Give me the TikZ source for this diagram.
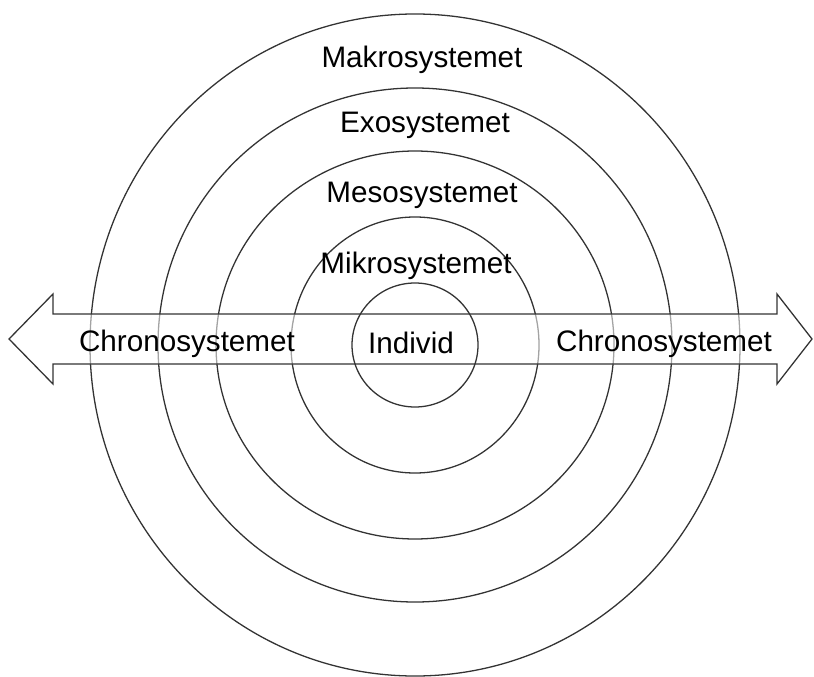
\documentclass[tikz,border=0pt]{standalone}
\usepackage{fontspec}
\setmainfont{Liberation Sans}
\usetikzlibrary{positioning}
\tikzset{
  ring/.style={line width=1.1pt, draw=black!80},
  lvl/.style={anchor=base, font=\fontsize{25.3}{30}\selectfont, inner sep=0pt},
}

\begin{document}
\begin{tikzpicture}[x=0.03cm, y=-0.03cm]
\useasboundingbox (0,0) rectangle (814,677);
% ---------- rings of the system, outer to inner ----------
\coordinate (mid) at (415,345);
\draw[ring] (mid) ellipse [x radius=325, y radius=331];
\draw[ring] (mid) ellipse [x radius=257, y radius=257];
\draw[ring] (mid) ellipse [x radius=199, y radius=194];
\draw[ring] (mid) ellipse [x radius=124, y radius=128];
% ---------- double arrow across the rings ----------
\draw[line width=1.1pt, draw=black!80, fill=white, fill opacity=0.55]
  (9,339) -- (53,294) -- (53,314) -- (777,314) -- (777,294) -- (812,339)
  -- (777,384) -- (777,364) -- (53,364) -- (53,384) -- cycle;
% innermost ring sits on top of the arrow
\draw[ring] (mid) ellipse [x radius=63, y radius=62];
% ---------- labels ----------
\node[lvl] (makro) at (422,68) {Makrosystemet};
\node[lvl] (exo) at (425,133) {Exosystemet};
\node[lvl] (meso) at (422,202) {Mesosystemet};
\node[lvl] (mikro) at (416,273) {Mikrosystemet};
\node[lvl] (individ) at (411,353) {Individ};
\node[lvl] (chronoL) at (187,351) {Chronosystemet};
\node[lvl] (chronoR) at (664,351) {Chronosystemet};
\end{tikzpicture}
\end{document}
